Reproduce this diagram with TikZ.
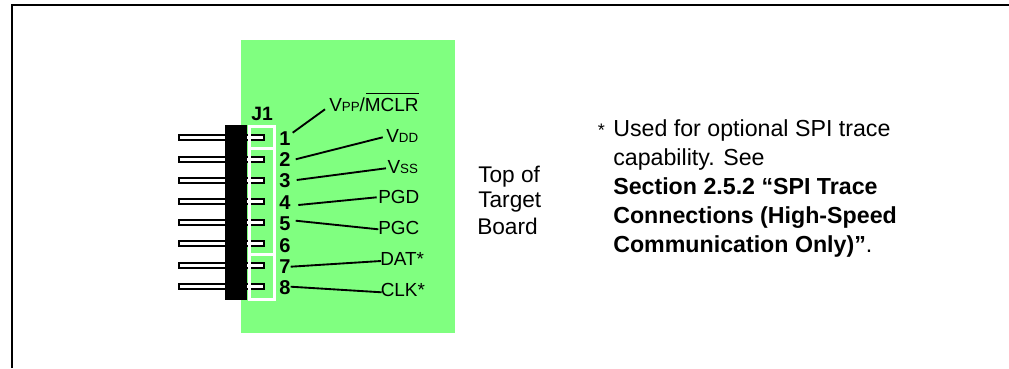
\documentclass[tikz,border=0pt]{standalone}
\usepackage{fontspec}
\setmainfont{Liberation Sans}
\tikzset{
 x=0.75pt,y=-0.75pt,
 lbl/.style={inner sep=0pt,font=\fontsize{17}{19}\selectfont,anchor=base west},
 num/.style={inner sep=0pt,font=\fontsize{15}{17}\selectfont\bfseries,anchor=base},
 sig/.style={inner sep=0pt,font=\fontsize{14.2}{16}\selectfont,anchor=base west},
 wire/.style={draw=black,line width=1.4pt},
 pin/.style={draw=black,fill=white,line width=1.5pt},
 box/.style={draw=white,line width=2.25pt},
 note/.style={inner sep=0pt,font=\fontsize{17.4}{19}\selectfont,anchor=base west},
 star/.style={inner sep=0pt,font=\fontsize{13.6}{15}\selectfont,anchor=base west},
}
\newcommand{\smc}[1]{{\fontsize{10}{12}\selectfont #1}}
\begin{document}
\begin{tikzpicture}
\useasboundingbox (0,0) rectangle (1009,368);
\fill[white] (0,0) rectangle (1009,368);
\draw[line width=1.5pt] (12,368) -- (12,5) -- (1009,5);
\fill[fill={rgb,255:red,128;green,255;blue,128}] (241,40) rectangle (455,333);
\foreach \y in {134,156,177,198,219,240,262,283}{
 \draw[pin] (179,\y+1) rectangle (264,\y+6);
}
\fill[black] (225,125) rectangle (246.7,300);
\draw[box] (249.7,126.5) rectangle (274.7,148);
\draw[box] (249.7,148) rectangle (274.7,254);
\draw[box] (249.7,254) rectangle (274.7,299);
\node[num,font=\fontsize{14.5}{17}\selectfont\bfseries] (j1) at (262,120) {J1};
\foreach \n/\y in {1/145,2/166,3/187,4/209,5/230,6/252,7/273,8/294}{
 \node[num] (n\n) at (285,\y) {\n};
}
\coordinate (a1) at (292.7,132.7);
\coordinate (a2) at (295.7,159.3);
\coordinate (a3) at (296.7,180);
\coordinate (a4) at (298.3,205);
\coordinate (a5) at (295.7,220.7);
\coordinate (a7) at (290.7,266.7);
\coordinate (a8) at (290.7,286.7);
\node[sig] (s1) at (329,111) {V\smc{PP}/MCLR};
\node[sig] (s2) at (386,142.3) {V\smc{DD}};
\node[sig] (s3) at (387.3,173) {V\smc{SS}};
\node[sig] (s4) at (378,203.3) {PGD};
\node[sig] (s5) at (378,234) {PGC};
\node[sig] (s7) at (380,265) {DAT*};
\node[sig] (s8) at (380.5,296) {CLK*};
\draw[line width=1.1pt] (366,93.3) -- (419,93.3);
\draw[wire] (a1) -- (325,109.3);
\draw[wire] (a2) -- (382.7,137.3);
\draw[wire] (a3) -- (386,168.3);
\draw[wire] (a4) -- (376.7,197.3);
\draw[wire] (a5) -- (378.3,229.3);
\draw[wire] (a7) -- (381,261);
\draw[wire] (a8) -- (381.7,292.3);
\node[lbl] (t1) at (478,182.3) {Top of};
\node[lbl] (t2) at (478,207.3) {Target};
\node[lbl] (t3) at (477,234) {Board};
\node[star] (m0) at (597.5,136) {*};
\node[note] (m1) at (613,136.5) {Used for optional SPI trace};
\node[note] (m2) at (613,165) {capability. See};
\node[note] (m3) at (613,194) {\bfseries Section 2.5.2 “SPI Trace};
\node[note] (m4) at (613,223) {\bfseries Connections (High-Speed};
\node[note] (m5) at (613,252) {\bfseries Communication Only)”\mdseries .};
\end{tikzpicture}
\end{document}
